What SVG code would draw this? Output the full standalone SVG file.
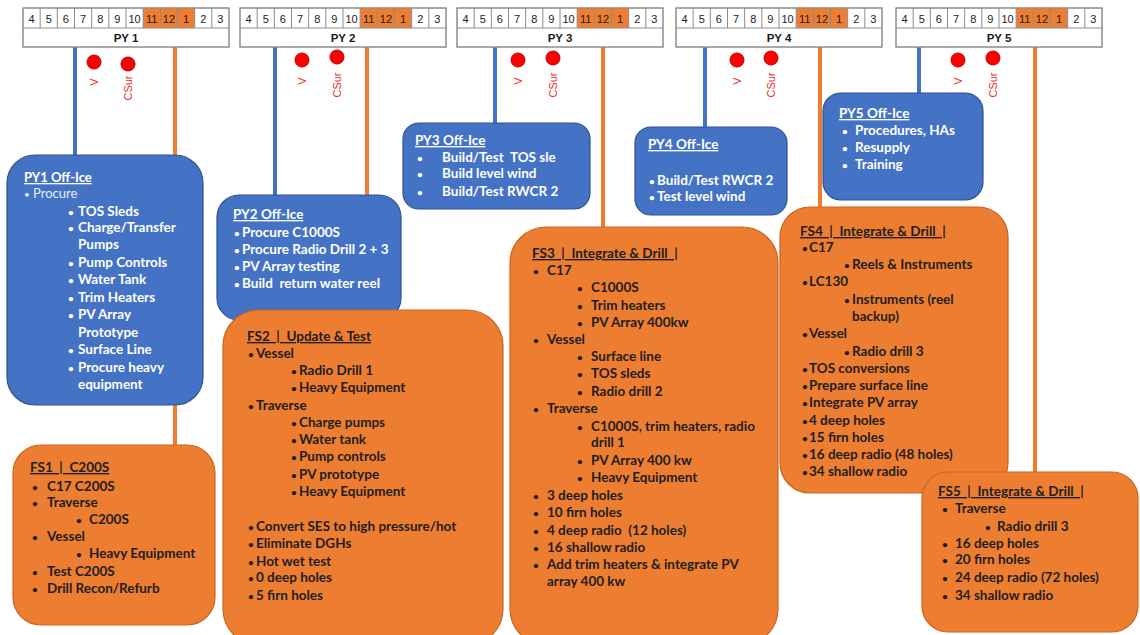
<svg xmlns="http://www.w3.org/2000/svg" xmlns:xlink="http://www.w3.org/1999/xlink" width="1140" height="635" viewBox="0 0 1140 635">
<style>
.bg{fill:#ffffff}
.cellbox{fill:#ffffff;stroke:#8c8c8c;stroke-width:1}
.hot{fill:#ED7D31}
.sep{fill:none;stroke:#8c8c8c;stroke-width:1}
.num{font-family:"Liberation Sans",Arial,sans-serif;font-size:11px;fill:#1a1a1a;text-anchor:middle}
.pyl{font-family:"Liberation Sans",Arial,sans-serif;font-size:11.5px;font-weight:bold;fill:#1a1a1a;text-anchor:middle}
.dot{fill:#FF0000;stroke:#C00000;stroke-width:1}
.dl{font-family:"Liberation Sans",Arial,sans-serif;font-size:11px;fill:#E8302A;text-anchor:middle}
.bl{stroke:#4472C4;stroke-width:4;fill:none}
.ol{stroke:#ED7D31;stroke-width:4;fill:none}
.bbox{fill:#4472C4;stroke:#2F528F;stroke-width:1.2}
.obox{fill:#ED7D31;stroke:#C9651F;stroke-width:1.2}
.wt{font-family:Lato,"Liberation Sans",sans-serif;font-size:13.5px;font-weight:bold;fill:#ffffff;white-space:pre}
.wn{font-family:Lato,"Liberation Sans",sans-serif;font-size:13px;font-weight:normal;fill:#e8eefa;white-space:pre}
.bt{font-family:Lato,"Liberation Sans",sans-serif;font-size:13.5px;font-weight:bold;fill:#1e1e1e;white-space:pre}
.hd{text-decoration:underline}
.b{font-size:10px}
</style>
<defs>
<g id="grid">
<rect class="cellbox" x="0" y="0" width="206" height="39"/>
<rect class="hot" x="120.17" y="0" width="51.5" height="20"/>
<path class="sep" d="M17.17 0V20M34.33 0V20M51.5 0V20M68.67 0V20M85.83 0V20M103 0V20M120.17 0V20M137.33 0V20M154.5 0V20M171.67 0V20M188.83 0V20M0 20H206"/>
<rect x="0" y="0" width="206" height="39" fill="none" stroke="#8c8c8c" stroke-width="1"/>
</g>
</defs>
<rect class="bg" x="0" y="0" width="1140" height="635"/>

<g id="connectors">
<path class="bl" d="M75 47V155"/>
<path class="bl" d="M275 47V195"/>
<path class="bl" d="M495 47V123"/>
<path class="bl" d="M705 47V127"/>
<path class="bl" d="M919 47V93"/>
<path class="ol" d="M175 47V445"/>
<path class="ol" d="M367 47V310"/>
<path class="ol" d="M603 47V227"/>
<path class="ol" d="M820 47V207"/>
<path class="ol" d="M1035 47V472"/>
</g>

<g id="py1">
<g transform="translate(23,8)">
<use xlink:href="#grid"/>
<text class="num" x="8.58" y="15">4</text><text class="num" x="25.75" y="15">5</text><text class="num" x="42.92" y="15">6</text><text class="num" x="60.08" y="15">7</text><text class="num" x="77.25" y="15">8</text><text class="num" x="94.42" y="15">9</text><text class="num" x="111.58" y="15">10</text><text class="num" x="128.75" y="15">11</text><text class="num" x="145.92" y="15">12</text><text class="num" x="163.08" y="15">1</text><text class="num" x="180.25" y="15">2</text><text class="num" x="197.42" y="15">3</text>
<text class="pyl" x="103" y="34">PY 1</text>
</g>
<circle class="dot" cx="94" cy="62" r="7"/><circle class="dot" cx="128" cy="64" r="7"/>
<text class="dl" transform="translate(94,82) rotate(-90)" dy="4">V</text>
<text class="dl" transform="translate(128,88) rotate(-90)" dy="4">CSur</text>
</g>

<g id="py2">
<g transform="translate(240,8)">
<use xlink:href="#grid"/>
<text class="num" x="8.58" y="15">4</text><text class="num" x="25.75" y="15">5</text><text class="num" x="42.92" y="15">6</text><text class="num" x="60.08" y="15">7</text><text class="num" x="77.25" y="15">8</text><text class="num" x="94.42" y="15">9</text><text class="num" x="111.58" y="15">10</text><text class="num" x="128.75" y="15">11</text><text class="num" x="145.92" y="15">12</text><text class="num" x="163.08" y="15">1</text><text class="num" x="180.25" y="15">2</text><text class="num" x="197.42" y="15">3</text>
<text class="pyl" x="103" y="34">PY 2</text>
</g>
<circle class="dot" cx="302" cy="60" r="7"/><circle class="dot" cx="337" cy="57" r="7"/>
<text class="dl" transform="translate(302,81) rotate(-90)" dy="4">V</text>
<text class="dl" transform="translate(337,85) rotate(-90)" dy="4">CSur</text>
</g>

<g id="py3">
<g transform="translate(457,8)">
<use xlink:href="#grid"/>
<text class="num" x="8.58" y="15">4</text><text class="num" x="25.75" y="15">5</text><text class="num" x="42.92" y="15">6</text><text class="num" x="60.08" y="15">7</text><text class="num" x="77.25" y="15">8</text><text class="num" x="94.42" y="15">9</text><text class="num" x="111.58" y="15">10</text><text class="num" x="128.75" y="15">11</text><text class="num" x="145.92" y="15">12</text><text class="num" x="163.08" y="15">1</text><text class="num" x="180.25" y="15">2</text><text class="num" x="197.42" y="15">3</text>
<text class="pyl" x="103" y="34">PY 3</text>
</g>
<circle class="dot" cx="518" cy="60" r="7"/><circle class="dot" cx="553" cy="58" r="7"/>
<text class="dl" transform="translate(518,81) rotate(-90)" dy="4">V</text>
<text class="dl" transform="translate(553,85) rotate(-90)" dy="4">CSur</text>
</g>

<g id="py4">
<g transform="translate(676,8)">
<use xlink:href="#grid"/>
<text class="num" x="8.58" y="15">4</text><text class="num" x="25.75" y="15">5</text><text class="num" x="42.92" y="15">6</text><text class="num" x="60.08" y="15">7</text><text class="num" x="77.25" y="15">8</text><text class="num" x="94.42" y="15">9</text><text class="num" x="111.58" y="15">10</text><text class="num" x="128.75" y="15">11</text><text class="num" x="145.92" y="15">12</text><text class="num" x="163.08" y="15">1</text><text class="num" x="180.25" y="15">2</text><text class="num" x="197.42" y="15">3</text>
<text class="pyl" x="103" y="34">PY 4</text>
</g>
<circle class="dot" cx="737" cy="60" r="7"/><circle class="dot" cx="771" cy="58" r="7"/>
<text class="dl" transform="translate(737,81) rotate(-90)" dy="4">V</text>
<text class="dl" transform="translate(771,85) rotate(-90)" dy="4">CSur</text>
</g>

<g id="py5">
<g transform="translate(896,8)">
<use xlink:href="#grid"/>
<text class="num" x="8.58" y="15">4</text><text class="num" x="25.75" y="15">5</text><text class="num" x="42.92" y="15">6</text><text class="num" x="60.08" y="15">7</text><text class="num" x="77.25" y="15">8</text><text class="num" x="94.42" y="15">9</text><text class="num" x="111.58" y="15">10</text><text class="num" x="128.75" y="15">11</text><text class="num" x="145.92" y="15">12</text><text class="num" x="163.08" y="15">1</text><text class="num" x="180.25" y="15">2</text><text class="num" x="197.42" y="15">3</text>
<text class="pyl" x="103" y="34">PY 5</text>
</g>
<circle class="dot" cx="958" cy="60" r="7"/><circle class="dot" cx="993" cy="58" r="7"/>
<text class="dl" transform="translate(958,81) rotate(-90)" dy="4">V</text>
<text class="dl" transform="translate(993,85) rotate(-90)" dy="4">CSur</text>
</g>

<g id="py1-office">
<rect class="bbox" x="7" y="155" width="196" height="250" rx="28"/>
<text class="wt hd" x="24" y="182" style="font-size:13px">PY1 Off-Ice</text>
<text class="wn" y="198"><tspan class="b" x="24">•</tspan><tspan x="33">Procure</tspan></text>
<text class="wt" y="216"><tspan class="b" x="68">•</tspan><tspan x="78">TOS Sleds</tspan></text>
<text class="wt" y="232"><tspan class="b" x="68">•</tspan><tspan x="78">Charge/Transfer</tspan></text>
<text class="wt" x="78" y="249">Pumps</text>
<text class="wt" y="267"><tspan class="b" x="68">•</tspan><tspan x="78">Pump Controls</tspan></text>
<text class="wt" y="284"><tspan class="b" x="68">•</tspan><tspan x="78">Water Tank</tspan></text>
<text class="wt" y="302"><tspan class="b" x="68">•</tspan><tspan x="78">Trim Heaters</tspan></text>
<text class="wt" y="319"><tspan class="b" x="68">•</tspan><tspan x="78">PV Array</tspan></text>
<text class="wt" x="78" y="337">Prototype</text>
<text class="wt" y="354"><tspan class="b" x="68">•</tspan><tspan x="78">Surface Line</tspan></text>
<text class="wt" y="372"><tspan class="b" x="68">•</tspan><tspan x="78">Procure heavy</tspan></text>
<text class="wt" x="78" y="389">equipment</text>
</g>

<g id="fs1">
<rect class="obox" x="13" y="445" width="202" height="180" rx="28"/>
<text class="bt hd" x="30" y="472">FS1  |  C200S</text>
<text class="bt" y="491"><tspan class="b" x="32">•</tspan><tspan x="47">C17 C200S</tspan></text>
<text class="bt" y="507"><tspan class="b" x="32">•</tspan><tspan x="47">Traverse</tspan></text>
<text class="bt" y="524"><tspan class="b" x="76">•</tspan><tspan x="89">C200S</tspan></text>
<text class="bt" y="541"><tspan class="b" x="32">•</tspan><tspan x="47">Vessel</tspan></text>
<text class="bt" y="558"><tspan class="b" x="76">•</tspan><tspan x="89">Heavy Equipment</tspan></text>
<text class="bt" y="576"><tspan class="b" x="32">•</tspan><tspan x="47">Test C200S</tspan></text>
<text class="bt" y="593"><tspan class="b" x="32">•</tspan><tspan x="47">Drill Recon/Refurb</tspan></text>
</g>

<g id="py2-office">
<rect class="bbox" x="217" y="195" width="184" height="125" rx="22"/>
<text class="wt hd" x="233" y="219">PY2 Off-Ice</text>
<text class="wt" y="237"><tspan class="b" x="234">•</tspan><tspan x="242">Procure C1000S</tspan></text>
<text class="wt" y="254"><tspan class="b" x="234">•</tspan><tspan x="242">Procure Radio Drill 2 + 3</tspan></text>
<text class="wt" y="271"><tspan class="b" x="234">•</tspan><tspan x="242">PV Array testing</tspan></text>
<text class="wt" y="288"><tspan class="b" x="234">•</tspan><tspan x="242">Build  return water reel</tspan></text>
</g>

<g id="fs2">
<rect class="obox" x="223" y="310" width="280" height="335" rx="36"/>
<text class="bt hd" x="247" y="341">FS2  |  Update &amp; Test</text>
<text class="bt" y="358"><tspan class="b" x="248">•</tspan><tspan x="256">Vessel</tspan></text>
<text class="bt" y="375"><tspan class="b" x="291">•</tspan><tspan x="299">Radio Drill 1</tspan></text>
<text class="bt" y="392"><tspan class="b" x="291">•</tspan><tspan x="299">Heavy Equipment</tspan></text>
<text class="bt" y="410"><tspan class="b" x="248">•</tspan><tspan x="256">Traverse</tspan></text>
<text class="bt" y="427"><tspan class="b" x="291">•</tspan><tspan x="299">Charge pumps</tspan></text>
<text class="bt" y="444"><tspan class="b" x="291">•</tspan><tspan x="299">Water tank</tspan></text>
<text class="bt" y="461"><tspan class="b" x="291">•</tspan><tspan x="299">Pump controls</tspan></text>
<text class="bt" y="479"><tspan class="b" x="291">•</tspan><tspan x="299">PV prototype</tspan></text>
<text class="bt" y="496"><tspan class="b" x="291">•</tspan><tspan x="299">Heavy Equipment</tspan></text>
<text class="bt" y="531"><tspan class="b" x="248">•</tspan><tspan x="256">Convert SES to high pressure/hot</tspan></text>
<text class="bt" y="548"><tspan class="b" x="248">•</tspan><tspan x="256">Eliminate DGHs</tspan></text>
<text class="bt" y="566"><tspan class="b" x="248">•</tspan><tspan x="256">Hot wet test</tspan></text>
<text class="bt" y="582"><tspan class="b" x="248">•</tspan><tspan x="256">0 deep holes</tspan></text>
<text class="bt" y="600"><tspan class="b" x="248">•</tspan><tspan x="256">5 firn holes</tspan></text>
</g>

<g id="py3-office">
<rect class="bbox" x="403" y="123" width="187" height="86" rx="16"/>
<text class="wt hd" x="415" y="145">PY3 Off-Ice</text>
<text class="wt" y="162"><tspan class="b" x="417">•</tspan><tspan x="442">Build/Test  TOS sle</tspan></text>
<text class="wt" y="178"><tspan class="b" x="417">•</tspan><tspan x="442">Build level wind</tspan></text>
<text class="wt" y="196"><tspan class="b" x="417">•</tspan><tspan x="442">Build/Test RWCR 2</tspan></text>
</g>

<g id="py4-office">
<rect class="bbox" x="635" y="127" width="152" height="88" rx="16"/>
<text class="wt hd" x="648" y="149">PY4 Off-Ice</text>
<text class="wt" y="185"><tspan class="b" x="649">•</tspan><tspan x="657">Build/Test RWCR 2</tspan></text>
<text class="wt" y="201"><tspan class="b" x="649">•</tspan><tspan x="657">Test level wind</tspan></text>
</g>

<g id="fs3">
<rect class="obox" x="510" y="227" width="268" height="418" rx="36"/>
<text class="bt hd" x="532" y="258">FS3  |  Integrate &amp; Drill  |</text>
<text class="bt" y="275"><tspan class="b" x="533">•</tspan><tspan x="547">C17</tspan></text>
<text class="bt" y="292"><tspan class="b" x="577">•</tspan><tspan x="591">C1000S</tspan></text>
<text class="bt" y="310"><tspan class="b" x="577">•</tspan><tspan x="591">Trim heaters</tspan></text>
<text class="bt" y="327"><tspan class="b" x="577">•</tspan><tspan x="591">PV Array 400kw</tspan></text>
<text class="bt" y="344"><tspan class="b" x="533">•</tspan><tspan x="547">Vessel</tspan></text>
<text class="bt" y="361"><tspan class="b" x="577">•</tspan><tspan x="591">Surface line</tspan></text>
<text class="bt" y="378"><tspan class="b" x="577">•</tspan><tspan x="591">TOS sleds</tspan></text>
<text class="bt" y="396"><tspan class="b" x="577">•</tspan><tspan x="591">Radio drill 2</tspan></text>
<text class="bt" y="413"><tspan class="b" x="533">•</tspan><tspan x="547">Traverse</tspan></text>
<text class="bt" y="431"><tspan class="b" x="577">•</tspan><tspan x="591">C1000S, trim heaters, radio</tspan></text>
<text class="bt" x="591" y="447">drill 1</text>
<text class="bt" y="465"><tspan class="b" x="577">•</tspan><tspan x="591">PV Array 400 kw</tspan></text>
<text class="bt" y="482"><tspan class="b" x="577">•</tspan><tspan x="591">Heavy Equipment</tspan></text>
<text class="bt" y="500"><tspan class="b" x="533">•</tspan><tspan x="547">3 deep holes</tspan></text>
<text class="bt" y="517"><tspan class="b" x="533">•</tspan><tspan x="547">10 firn holes</tspan></text>
<text class="bt" y="535"><tspan class="b" x="533">•</tspan><tspan x="547">4 deep radio  (12 holes)</tspan></text>
<text class="bt" y="552"><tspan class="b" x="533">•</tspan><tspan x="547">16 shallow radio</tspan></text>
<text class="bt" y="569"><tspan class="b" x="533">•</tspan><tspan x="547">Add trim heaters &amp; integrate PV</tspan></text>
<text class="bt" x="547" y="586">array 400 kw</text>
</g>

<g id="py5-office">
<rect class="bbox" x="823" y="93" width="160" height="107" rx="18"/>
<text class="wt hd" x="839" y="118">PY5 Off-Ice</text>
<text class="wt" y="135"><tspan class="b" x="842">•</tspan><tspan x="855">Procedures, HAs</tspan></text>
<text class="wt" y="152"><tspan class="b" x="842">•</tspan><tspan x="855">Resupply</tspan></text>
<text class="wt" y="169"><tspan class="b" x="842">•</tspan><tspan x="855">Training</tspan></text>
</g>

<g id="fs4">
<rect class="obox" x="780" y="207" width="228" height="286" rx="30"/>
<text class="bt hd" x="800" y="236">FS4  |  Integrate &amp; Drill  |</text>
<text class="bt" y="252"><tspan class="b" x="802">•</tspan><tspan x="809">C17</tspan></text>
<text class="bt" y="269"><tspan class="b" x="844">•</tspan><tspan x="852">Reels &amp; Instruments</tspan></text>
<text class="bt" y="286"><tspan class="b" x="802">•</tspan><tspan x="809">LC130</tspan></text>
<text class="bt" y="304"><tspan class="b" x="844">•</tspan><tspan x="852">Instruments (reel</tspan></text>
<text class="bt" x="852" y="321">backup)</text>
<text class="bt" y="338"><tspan class="b" x="802">•</tspan><tspan x="809">Vessel</tspan></text>
<text class="bt" y="356"><tspan class="b" x="844">•</tspan><tspan x="852">Radio drill 3</tspan></text>
<text class="bt" y="373"><tspan class="b" x="802">•</tspan><tspan x="809">TOS conversions</tspan></text>
<text class="bt" y="390"><tspan class="b" x="802">•</tspan><tspan x="809">Prepare surface line</tspan></text>
<text class="bt" y="407"><tspan class="b" x="802">•</tspan><tspan x="809">Integrate PV array</tspan></text>
<text class="bt" y="425"><tspan class="b" x="802">•</tspan><tspan x="809">4 deep holes</tspan></text>
<text class="bt" y="442"><tspan class="b" x="802">•</tspan><tspan x="809">15 firn holes</tspan></text>
<text class="bt" y="459"><tspan class="b" x="802">•</tspan><tspan x="809">16 deep radio (48 holes)</tspan></text>
<text class="bt" y="476"><tspan class="b" x="802">•</tspan><tspan x="809">34 shallow radio</tspan></text>
</g>

<g id="fs5">
<rect class="obox" x="922" y="472" width="216" height="160" rx="26"/>
<text class="bt hd" x="938" y="496">FS5  |  Integrate &amp; Drill  |</text>
<text class="bt" y="513"><tspan class="b" x="942">•</tspan><tspan x="955">Traverse</tspan></text>
<text class="bt" y="531"><tspan class="b" x="985">•</tspan><tspan x="997">Radio drill 3</tspan></text>
<text class="bt" y="548"><tspan class="b" x="942">•</tspan><tspan x="955">16 deep holes</tspan></text>
<text class="bt" y="564"><tspan class="b" x="942">•</tspan><tspan x="955">20 firn holes</tspan></text>
<text class="bt" y="582"><tspan class="b" x="942">•</tspan><tspan x="955">24 deep radio (72 holes)</tspan></text>
<text class="bt" y="600"><tspan class="b" x="942">•</tspan><tspan x="955">34 shallow radio</tspan></text>
</g>
</svg>
